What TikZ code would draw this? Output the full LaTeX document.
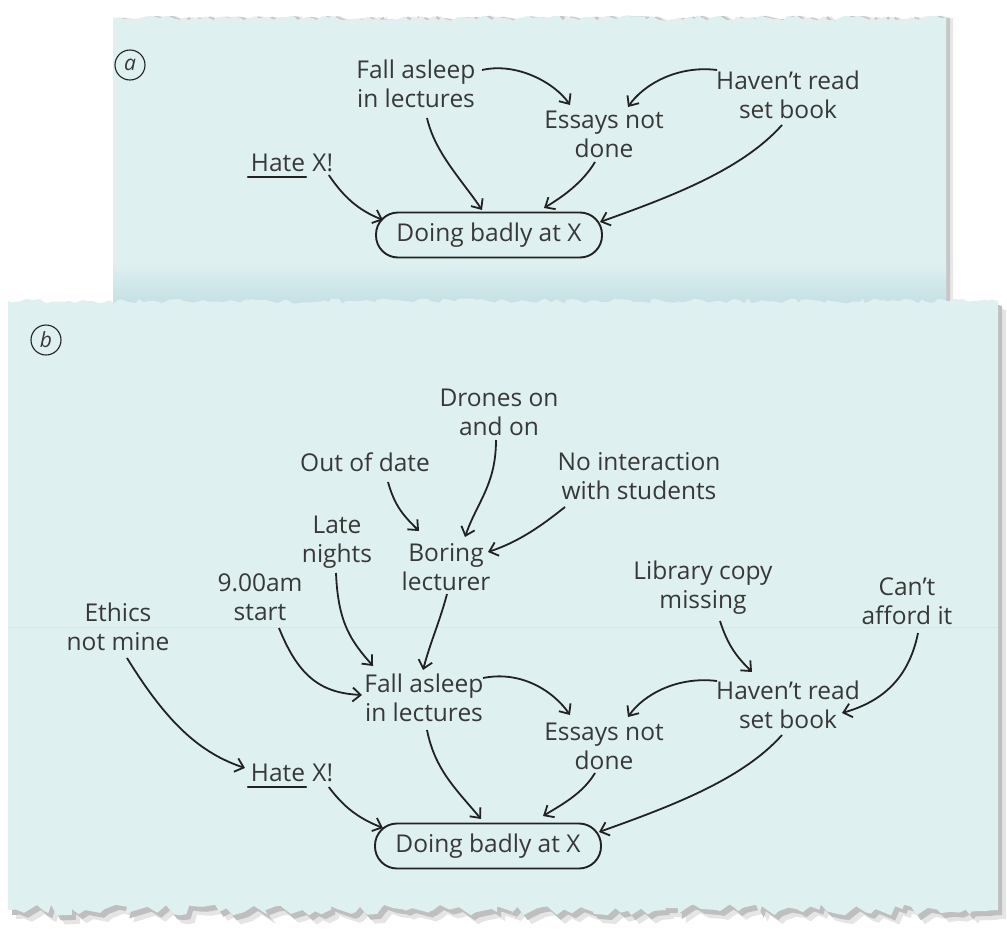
\documentclass[tikz,border=0pt]{standalone}
\usepackage{fontspec}
\setmainfont{Open Sans}
\usetikzlibrary{arrows.meta,calc,decorations.pathmorphing}
\definecolor{paper}{HTML}{DFF0F1}
\definecolor{band}{HTML}{C4DFE4}
\definecolor{ink}{HTML}{222222}
\definecolor{txt}{HTML}{383838}
\definecolor{seam}{HTML}{D3E6E8}
\begin{document}
\begin{tikzpicture}[x=1pt,y=-1pt,
  lbl/.style={text=txt, align=center, font=\fontsize{24.5}{29}\selectfont, inner sep=0pt},
  goal/.style={lbl, draw=ink, line width=1.9pt, rounded corners=22pt,
    minimum width=226pt, minimum height=45pt},
  tag/.style={circle, draw=ink, line width=1.1pt, minimum size=30pt, inner sep=0pt,
    text=txt, font=\fontsize{21}{21}\selectfont\itshape},
  arr/.style={draw=ink, line width=1.8pt, -{Straight Barb[length=8pt,width=14pt]}},
  ul/.style={draw=ink, line width=1.9pt, line cap=round},
  torn/.style={decoration={random steps, segment length=5pt, amplitude=2.5pt}},
  tornb/.style={decoration={random steps, segment length=7pt, amplitude=5.5pt}},
]
\useasboundingbox (0,0) rectangle (1007,929);
\fill[white] (0,0) rectangle (1007,929);

% ---------- sheet (a) ----------
\begin{scope}[xshift=7pt]
  \pgfmathsetseed{11}
  \fill[gray!18] (113,305) -- (113,18) decorate[torn]{-- (946,18)} -- (946,305) -- cycle;
\end{scope}
\begin{scope}[xshift=4pt]
  \pgfmathsetseed{11}
  \fill[gray!45] (113,305) -- (113,18) decorate[torn]{-- (946,18)} -- (946,305) -- cycle;
\end{scope}
\pgfmathsetseed{11}
\fill[paper] (113,305) -- (113,18) decorate[torn]{-- (946,18)} -- (946,305) -- cycle;
\shade[top color=paper, bottom color=band] (113,262) rectangle (946,306);

% ---------- sheet (b) ----------
\begin{scope}[xshift=8pt, yshift=-9pt]
  \pgfmathsetseed{23}
  \fill[gray!20] (8,301) decorate[torn]{-- (998,301)} -- (998,910) decorate[tornb]{-- (8,910)} -- cycle;
\end{scope}
\begin{scope}[xshift=4pt, yshift=-5pt]
  \pgfmathsetseed{23}
  \fill[gray!50] (8,301) decorate[torn]{-- (998,301)} -- (998,910) decorate[tornb]{-- (8,910)} -- cycle;
\end{scope}
\pgfmathsetseed{23}
\fill[paper] (8,301) decorate[torn]{-- (998,301)} -- (998,910) decorate[tornb]{-- (8,910)} -- cycle;
\draw[seam, line width=0.8pt] (8,627) -- (998,627);

% ---------- diagram (a) ----------
\node[tag] (ta) at (130,65) {a};
\node[lbl] (fa) at (416,84) {Fall asleep\\in lectures};
\node[lbl] (ea) at (604,134) {Essays not\\done};
\node[lbl] (ha) at (788,95) {Haven’t read\\set book};
\node[lbl] (hwa) at (278,163) {Hate};
\node[lbl, anchor=base west] (hxa) at ([xshift=7pt]hwa.base east) {X!};
\node[goal] (da) at (489,235) {Doing badly at X};
\draw[ul] ([xshift=-3pt,yshift=-5pt]hwa.base west) -- ([xshift=1pt,yshift=-5pt]hwa.base east);

\draw[arr] ($(fa)+(66,-14)$) .. controls +(35,-8) and +(-15,-22) .. ($(ea)+(-34,-29)$);
\draw[arr] ($(ha)+(-71,-25)$) .. controls +(-40,-5) and +(15,-22) .. ($(ea)+(24,-27)$);
\draw[arr] ($(fa)+(11,34)$) .. controls +(8,35) and +(-20,-30) .. ($(da)+(-7,-25)$);
\draw[arr] ($(ea)+(-9,28)$) .. controls +(-12,20) and +(20,-12) .. ($(da)+(55,-27)$);
\draw[arr] ($(ha)+(-6,30)$) .. controls +(-40,45) and +(70,-25) .. ($(da)+(111,-13)$);
\draw[arr] ($(hxa)+(6,12)$) .. controls +(15,22) and +(-25,-10) .. ($(da)+(-106,-15)$);

% ---------- diagram (b) ----------
\node[tag] (tb) at (46,340) {b};
\node[lbl] (dr) at (499,412) {Drones on\\and on};
\node[lbl] (od) at (365,462) {Out of date};
\node[lbl] (ni) at (639,476) {No interaction\\with students};
\node[lbl] (bl) at (446,567) {Boring\\lecturer};
\node[lbl] (ln) at (337,542) {Late\\nights};
\node[lbl] (ns) at (260,597) {9.00am\\start};
\node[lbl] (et) at (118,627) {Ethics\\not mine};
\node[lbl] (lc) at (703,588) {Library copy\\missing};
\node[lbl] (ca) at (907,601) {Can’t\\afford it};
\node[lbl] (fb) at (424,698) {Fall asleep\\in lectures};
\node[lbl] (eb) at (604,746) {Essays not\\done};
\node[lbl] (hb) at (788,705) {Haven’t read\\set book};
\node[lbl] (hwb) at (278,773) {Hate};
\node[lbl, anchor=base west] (hxb) at ([xshift=7pt]hwb.base east) {X!};
\node[goal] (db) at (488,846) {Doing badly at X};
\draw[ul] ([xshift=-3pt,yshift=-5pt]hwb.base west) -- ([xshift=1pt,yshift=-5pt]hwb.base east);

\draw[arr] ($(od)+(23,20)$) .. controls +(7,25) and +(-15,-15) .. ($(bl)+(-27,-36)$);
\draw[arr] ($(dr)+(-3,28)$) .. controls +(0,45) and +(12,-35) .. ($(bl)+(19,-30)$);
\draw[arr] ($(ni)+(-74,31)$) .. controls +(-25,20) and +(30,-10) .. ($(bl)+(42,-15)$);
\draw[arr] ($(ln)+(-1,31)$) .. controls +(2,50) and +(-22,-25) .. ($(fb)+(-51,-32)$);
\draw[arr] ($(bl)+(1,27)$) .. controls +(-8,30) and +(8,-30) .. ($(fb)+(-1,-28)$);
\draw[arr] ($(ns)+(19,31)$) .. controls +(20,50) and +(-40,-2) .. ($(fb)+(-62,-3)$);
\draw[arr] ($(et)+(9,31)$) .. controls +(40,65) and +(-45,-15) .. ($(hwb)+(-33,-5)$);
\draw[arr] ($(hxb)+(6,14)$) .. controls +(15,20) and +(-25,-10) .. ($(db)+(-105,-18)$);
\draw[arr] ($(fb)+(3,32)$) .. controls +(8,40) and +(-25,-30) .. ($(db)+(-7,-27)$);
\draw[arr] ($(fb)+(59,-20)$) .. controls +(40,-8) and +(-15,-22) .. ($(eb)+(-34,-31)$);
\draw[arr] ($(hb)+(-71,-24)$) .. controls +(-40,-5) and +(15,-22) .. ($(eb)+(24,-29)$);
\draw[arr] ($(eb)+(-9,27)$) .. controls +(-12,20) and +(20,-12) .. ($(db)+(55,-30)$);
\draw[arr] ($(hb)+(-6,30)$) .. controls +(-40,45) and +(70,-25) .. ($(db)+(111,-14)$);
\draw[arr] ($(lc)+(17,33)$) .. controls +(8,25) and +(-15,-15) .. ($(hb)+(-36,-33)$);
\draw[arr] ($(ca)+(11,32)$) .. controls +(-10,50) and +(35,-10) .. ($(hb)+(54,8)$);
\end{tikzpicture}
\end{document}
